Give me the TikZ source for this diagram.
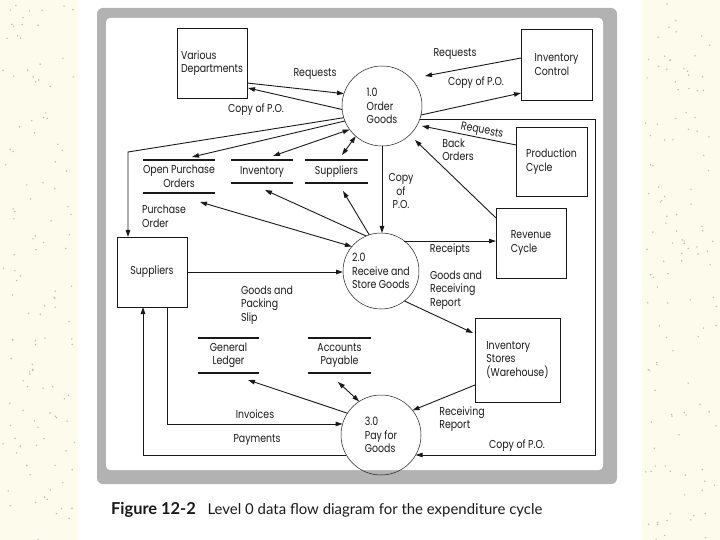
\documentclass[tikz,border=0pt]{standalone}
\usepackage{fontspec}
\setmainfont{Poppins}[FakeStretch=0.82]
\newfontfamily\capfont{Lato}
\usetikzlibrary{arrows.meta,calc}
\definecolor{bgc}{RGB}{252,251,236}
\definecolor{framegray}{RGB}{178,178,178}
\definecolor{speck}{RGB}{190,188,175}
\definecolor{ink}{RGB}{25,25,25}
\begin{document}
\begin{tikzpicture}[x=1bp,y=-1bp,
  every node/.style={font=\fontsize{11.5}{13.5}\selectfont, text=ink},
  box/.style={draw=ink, line width=0.8pt, inner sep=0pt, outer sep=0pt, align=left},
  proc/.style={circle, draw=ink, line width=0.5pt, inner sep=0pt, outer sep=0pt, align=left},
  store/.style={inner sep=0pt, outer sep=0pt, align=center},
  storeline/.style={draw=ink, line width=1.2pt},
  flow/.style={draw=ink, line width=0.9pt, -{Triangle[length=7bp,width=4.5bp]}},
  flowb/.style={draw=ink, line width=0.9pt, {Triangle[length=7bp,width=4.5bp]}-{Triangle[length=7bp,width=4.5bp]}},
  lbl/.style={inner sep=0pt, align=left}]
\useasboundingbox (0,0) rectangle (720,540);
\fill[bgc] (0,0) rectangle (720,540);
\pgfmathsetseed{7}
\foreach \i in {1,...,120}{
  \fill[speck] ({3+72*rnd},{540*rnd}) circle (0.8bp);
  \fill[speck] ({645+72*rnd},{540*rnd}) circle (0.8bp);
}
\fill[white] (78,0) rectangle (642,540);
\fill[framegray, rounded corners=6bp] (97,8) rectangle (617,484);
\fill[white, rounded corners=4bp] (106,18) rectangle (603,470);

% external entities
\node[box, minimum width=70bp, minimum height=70bp] (vd) at (212,63) {Various\\Departments};
\node[box, minimum width=71bp, minimum height=71bp] (ic) at (556.5,64.5) {Inventory\\Control};
\node[box, minimum width=71bp, minimum height=69bp] (pc) at (551.5,161.5) {Production\\Cycle};
\node[box, minimum width=70bp, minimum height=70bp] (rc) at (531,243) {Revenue\\Cycle};
\node[box, minimum width=85bp, minimum height=84bp] (is) at (517.5,360) {Inventory\\Stores\\(Warehouse)};
\node[box, minimum width=70bp, minimum height=70bp, align=center] (sup) at (152,272) {Suppliers};

% processes
\node[proc, minimum size=80bp] (c1) at (382,106) {1.0\\Order\\Goods};
\node[proc, minimum size=76bp] (c2) at (381,271) {2.0\\Receive and\\Store Goods};
\node[proc, minimum size=80bp] (c3) at (381,435) {3.0\\Pay for\\Goods};

% data stores
\node[store, minimum width=62bp, minimum height=33bp] (opo) at (179,176.5) {Open Purchase\\Orders};
\node[store, minimum width=62bp, minimum height=23bp] (inv) at (262,171.5) {Inventory};
\node[store, minimum width=63bp, minimum height=23bp] (sst) at (336.5,171.5) {Suppliers};
\node[store, minimum width=61bp, minimum height=35bp] (gl) at (228.5,355.5) {General\\Ledger};
\node[store, minimum width=63bp, minimum height=35bp] (ap) at (339.5,355.5) {Accounts\\Payable};
\foreach \s in {opo,inv,sst,gl,ap}{
  \draw[storeline] (\s.north west) -- (\s.north east) (\s.south west) -- (\s.south east);
}

% flows around 1.0
\draw[flow] ($(vd.east)+(0,20)$) -- (c1.162);
\draw[flow] (c1.185) -- ($(vd.east)+(1,25)$);
\draw[flow] ($(ic.west)+(0,-6.5)$) -- ($(c1.center)+(43,-30)$);
\draw[flow] (c1.-13) -- ($(ic.west)+(0,28.5)$);
\draw[flow] ($(pc.west)+(0,-16.5)$) -- ($(c1.center)+(40,20)$);
\draw[flow] ($(rc.north west)+(0,10)$) -- ($(c1.center)+(33,34)$);
\coordinate (fx) at (595,120);
\draw[flow] (c1.-20) -- (c1.-20 -| fx) -- (fx |- c3.-30) -- (c3.-30);
\draw[flow] (c1.202) -- ($(opo.north)+(13,-3)$);
\coordinate (pocorner) at (128,152);
\draw[flow] (c1.197) -- (pocorner) -- (pocorner |- sup.north);
\draw[flowb] (c1.216) -- ($(inv.north)+(11,-4)$);
\draw[flowb] (c1.229) -- ($(sst.north)+(5.5,-5)$);
\draw[flow] (c1.south) -- (c1.south |- c2.north);

% flows around 2.0
\draw[flowb] (c2.140) -- ($(opo.south)+(21,9)$);
\draw[flow] (c2.113) -- ($(inv.south)+(3,7)$);
\draw[flow] (c2.108) -- ($(sst.south)+(6.5,8)$);
\draw[flow] (sup.east) -- (sup.east -| c2.west);
\draw[flow] (c2.52) -- (c2.52 -| rc.west);
\draw[flow] (c2.-52) -- ($(is.north west)+(-2,15)$);

% flows around 3.0
\draw[flow] ($(is.south west)+(0,-17)$) -- (c3.38);
\draw[flow] ($(sup.south)+(15,0)$) |- (c3.164);
\draw[flow] (c3.210) -| ($(sup.south)+(-9,0)$);
\draw[flow] (c3.147) -- ($(gl.south)+(19.5,7)$);
\draw[flowb] (c3.123) -- ($(ap.south)+(-1.5,9)$);

% labels
\node[lbl] (l1) at (315,74) {Requests};
\node[lbl] (l2) at (256,110) {Copy of P.O.};
\node[lbl] (l3) at (455,54) {Requests};
\node[lbl] (l4) at (476,83) {Copy of P.O.};
\node[lbl, rotate=-11.5] (l5) at (482,131) {Requests};
\node[lbl] (l6) at (458,150) {Back\\Orders};
\node[lbl, align=center] (l7) at (401,191) {Copy\\of\\P.O.};
\node[lbl] (l8) at (164,216.5) {Purchase\\Order};
\node[lbl] (l9) at (267,305) {Goods and\\Packing\\Slip};
\node[lbl] (l10) at (450,250) {Receipts};
\node[lbl] (l11) at (456,290) {Goods and\\Receiving\\Report};
\node[lbl] (l12) at (462,419) {Receiving\\Report};
\node[lbl] (l13) at (517,446) {Copy of P.O.};
\node[lbl] (l14) at (255,414) {Invoices};
\node[lbl] (l15) at (257,440) {Payments};

% caption
\node[font=\capfont\bfseries\fontsize{16.5}{18}\selectfont] (fig) at (153.5,510) {Figure 12-2};
\node[font=\capfont\fontsize{15}{16}\selectfont] (cap) at (375,510) {Level 0 data flow diagram for the expenditure cycle};
\end{tikzpicture}
\end{document}
